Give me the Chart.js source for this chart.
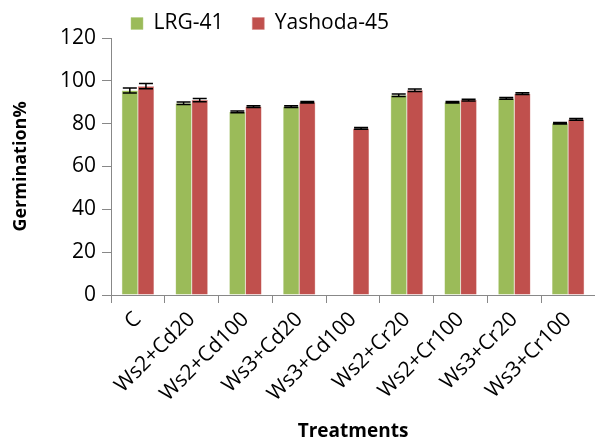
<!DOCTYPE html>
<html>
<head>
<meta charset="utf-8">
<script src="https://cdn.jsdelivr.net/npm/chart.js@4.4.0/dist/chart.umd.min.js"></script>
<style>
  html, body { margin: 0; padding: 0; background: #fff; }
  #wrap { width: 595px; height: 443px; }
</style>
</head>
<body>
<div id="wrap"><canvas id="myChart"></canvas></div>
<script>
// data
const treatments = ['C', 'Ws2+Cd20', 'Ws2+Cd100', 'Ws3+Cd20', 'Ws3+Cd100', 'Ws2+Cr20', 'Ws2+Cr100', 'Ws3+Cr20', 'Ws3+Cr100'];
const lrg41 = [95.5, 89.5, 85.5, 88, 0, 93.3, 90, 91.8, 80.2];
const lrg41Err = [1.2, 0.6, 0.4, 0.4, 0, 0.6, 0.4, 0.4, 0.4];
const yashoda45 = [97.5, 91, 88, 90, 77.8, 95.6, 91, 94, 82];
const yashoda45Err = [1.2, 0.8, 0.4, 0.4, 0.4, 0.6, 0.4, 0.4, 0.4];
const yTicks = [0, 20, 40, 60, 80, 100, 120];

const font = "'Open Sans', 'Liberation Sans', sans-serif";

// error bars drawn from scale values
const errorBars = {
  id: 'errorBars',
  afterDatasetsDraw(chart) {
    const c = chart.ctx;
    const yScale = chart.scales.y;
    chart.data.datasets.forEach((ds, di) => {
      const meta = chart.getDatasetMeta(di);
      meta.data.forEach((bar, i) => {
        const v = ds.data[i], e = ds.errors[i];
        if (!v) return;
        const top = yScale.getPixelForValue(v + e);
        const bot = yScale.getPixelForValue(v - e);
        const half = 7;
        c.save();
        c.strokeStyle = '#000';
        c.lineWidth = 1.5;
        c.beginPath();
        c.moveTo(bar.x, top); c.lineTo(bar.x, bot);
        c.moveTo(bar.x - half, top); c.lineTo(bar.x + half, top);
        c.moveTo(bar.x - half, bot); c.lineTo(bar.x + half, bot);
        c.stroke();
        c.restore();
      });
    });
  }
};

// move the legend over the plot like in the original
const legendShift = {
  id: 'legendShift',
  afterLayout(chart) {
    chart.legend.left += 124;
    chart.legend.right += 124;
    chart.legend.top += 6;
    chart.legend.bottom += 6;
  }
};

const ctx = document.getElementById('myChart').getContext('2d');

new Chart(ctx, {
  type: 'bar',
  data: {
    labels: treatments,
    datasets: [{
      label: 'LRG-41',
      data: lrg41,
      errors: lrg41Err,
      backgroundColor: '#9BBB59',
      borderColor: '#B5CE86',
      borderWidth: 0.5
    },
    {
      label: 'Yashoda-45',
      data: yashoda45,
      errors: yashoda45Err,
      backgroundColor: '#C0504D',
      borderColor: '#D38482',
      borderWidth: 0.5
    }]
  },
  options: {
    responsive: true,
    maintainAspectRatio: false,
    animation: false,
    datasets: {
      bar: { categoryPercentage: 0.6, barPercentage: 1.0 }
    },
    layout: { padding: { top: 0, right: 0, left: 0, bottom: 0 } },
    scales: {
      y: {
        min: 0,
        max: 120,
        afterBuildTicks: (scale) => { scale.ticks = yTicks.map(v => ({ value: v })); },
        afterFit: (scale) => { scale.width = 111; },
        border: { color: '#888', width: 1 },
        grid: { drawOnChartArea: false, tickLength: 9, color: '#888' },
        ticks: { color: '#000', font: { family: font, size: 21 }, padding: 6 },
        title: {
          display: true,
          text: 'Germination%',
          color: '#000',
          font: { family: font, size: 18, weight: 'bold' },
          padding: { top: 10, bottom: 0 }
        }
      },
      x: {
        afterFit: (scale) => { scale.height = 148; },
        border: { color: '#888', width: 1 },
        grid: { drawOnChartArea: false, tickLength: 8, color: '#888', offset: true },
        ticks: {
          color: '#000',
          font: { family: font, size: 21 },
          maxRotation: 45,
          minRotation: 45,
          autoSkip: false,
          padding: 4
        },
        title: {
          display: true,
          text: 'Treatments',
          color: '#000',
          font: { family: font, size: 19, weight: 'bold' },
          padding: { top: 0, bottom: 0 }
        }
      }
    },
    plugins: {
      legend: {
        position: 'top',
        align: 'start',
        labels: {
          color: '#000',
          font: { family: font, size: 21 },
          boxWidth: 12,
          boxHeight: 12,
          padding: 7,
          generateLabels: (chart) => {
            const items = Chart.defaults.plugins.legend.labels.generateLabels(chart);
            items[0].text = items[0].text + '    ';
            return items;
          }
        }
      },
      tooltip: { enabled: false }
    }
  },
  plugins: [errorBars, legendShift]
});
</script>
</body>
</html>
